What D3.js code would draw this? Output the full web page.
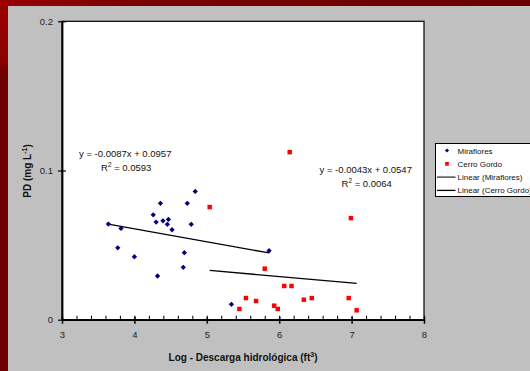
<!DOCTYPE html>
<html>
<head>
<meta charset="utf-8">
<script src="https://cdn.jsdelivr.net/npm/d3@7"></script>
<style>
  body { margin: 0; background: #c0c0c0; }
  text { font-family: "Liberation Sans", Arial, sans-serif; }
</style>
</head>
<body>
<script>
// data
var mirafloresX = [3.64, 3.815, 3.77, 4.00, 4.32, 4.26, 4.30, 4.36, 4.395, 4.47, 4.455, 4.52, 4.69, 4.675, 4.73, 4.785, 4.84, 5.34, 5.86];
var mirafloresY = [0.0641, 0.0612, 0.0482, 0.0422, 0.0293, 0.0703, 0.0654, 0.078, 0.0663, 0.0672, 0.0639, 0.0603, 0.0449, 0.0351, 0.078, 0.0639, 0.086, 0.0103, 0.0462];
var cerroX = [5.04, 6.145, 6.99, 5.80, 6.07, 6.17, 5.54, 5.68, 5.45, 5.93, 5.98, 6.34, 6.45, 6.96, 7.07];
var cerroY = [0.0755, 0.1123, 0.0681, 0.0342, 0.0226, 0.0226, 0.0145, 0.0125, 0.0072, 0.0094, 0.0072, 0.0134, 0.0145, 0.0145, 0.0063];
// trendline coefficients as printed on the chart
var mirafloresFit = { slope: -0.0087, intercept: 0.0957, r2: '0.0593' };
var cerroFit = { slope: -0.0043, intercept: 0.0547, r2: '0.0064' };
var xTicks = [3, 4, 5, 6, 7, 8];
var yTicks = [0, 0.1, 0.2];
var legendLabels = ['Miraflores', 'Cerro Gordo', 'Linear (Miraflores)', 'Linear (Cerro Gordo)'];

var width = 530,
	height = 371;

var svg = d3.select('body')
	.append('svg')
	.attr('width', width)
	.attr('height', height);

var defs = svg.append('defs');
var gTop = defs.append('linearGradient').attr('id', 'gtop');
gTop.append('stop').attr('offset', '0').attr('stop-color', '#9a0000');
gTop.append('stop').attr('offset', '0.25').attr('stop-color', '#7a0000');
gTop.append('stop').attr('offset', '1').attr('stop-color', '#6a0000');
var gLeft = defs.append('linearGradient').attr('id', 'gleft')
	.attr('x1', 0).attr('y1', 0).attr('x2', 0).attr('y2', 1);
gLeft.append('stop').attr('offset', '0').attr('stop-color', '#9a0000');
gLeft.append('stop').attr('offset', '0.17').attr('stop-color', '#8a0000');
gLeft.append('stop').attr('offset', '0.19').attr('stop-color', '#700000');
gLeft.append('stop').attr('offset', '1').attr('stop-color', '#6a0000');

// gray background and the red frame
svg.append('rect').attr('width', width).attr('height', height).attr('fill', '#c0c0c0');
svg.append('rect').attr('width', width).attr('height', 6).attr('fill', 'url(#gtop)');
svg.append('rect').attr('width', 8).attr('height', height).attr('fill', 'url(#gleft)');

var x = d3.scaleLinear().domain([3, 8]).range([62, 424]);
var y = d3.scaleLinear().domain([0, 0.2]).range([319.7, 21.3]);

// plot area
svg.append('rect')
	.attr('x', x(3)).attr('y', y(0.2))
	.attr('width', x(8) - x(3)).attr('height', y(0) - y(0.2))
	.attr('fill', '#fff')
	.attr('stroke', '#000')
	.attr('stroke-width', 1.2);

// x axis: major ticks cross the line, minor ticks point inward
var xAxis = svg.append('g').attr('transform', 'translate(0,' + y(0) + ')');
xAxis.append('g')
	.call(d3.axisBottom(x).tickValues(d3.range(3, 8.01, 0.2)).tickSize(-4).tickFormat(''))
	.call(function(g) { g.select('.domain').remove(); });
xAxis.append('g')
	.call(d3.axisBottom(x).tickValues(xTicks).tickSizeInner(4).tickSizeOuter(0).tickPadding(8)
		.tickFormat(d3.format('d')))
	.call(function(g) {
		g.select('.domain').attr('stroke-width', 1.8);
		g.selectAll('.tick line').attr('y1', -3).attr('stroke-width', 1.5);
		g.selectAll('.tick text').attr('font-size', 9.5).attr('fill', '#222')
			.attr('font-family', '"Liberation Sans", Arial, sans-serif');
	});

// y axis
svg.append('g')
	.attr('transform', 'translate(' + x(3) + ',0)')
	.call(d3.axisLeft(y).tickValues(yTicks).tickSizeInner(4).tickSizeOuter(0).tickPadding(5)
		.tickFormat(function(d) { return d === 0 ? '0' : d3.format('.1f')(d); }))
	.call(function(g) {
		g.select('.domain').attr('stroke-width', 1.8);
		g.selectAll('.tick line').attr('x2', 4).attr('x1', -4).attr('stroke-width', 1.2);
		g.selectAll('.tick text').attr('font-size', 9.5).attr('fill', '#222')
			.attr('font-family', '"Liberation Sans", Arial, sans-serif');
	});

// trend lines
function fitLine(fit, xs) {
	var ext = d3.extent(xs);
	return d3.line()
		.x(function(d) { return x(d); })
		.y(function(d) { return y(fit.slope * d + fit.intercept); })(ext);
}
svg.append('path').attr('d', fitLine(mirafloresFit, mirafloresX))
	.attr('stroke', '#000').attr('stroke-width', 1.3).attr('fill', 'none');
svg.append('path').attr('d', fitLine(cerroFit, cerroX))
	.attr('stroke', '#000').attr('stroke-width', 1.3).attr('fill', 'none');

// markers
var diamond = d3.symbol().type(d3.symbolSquare).size(14);
svg.append('g').selectAll('path')
	.data(d3.zip(mirafloresX, mirafloresY))
	.enter().append('path')
	.attr('d', diamond)
	.attr('transform', function(d) { return 'translate(' + x(d[0]) + ',' + y(d[1]) + ') rotate(45)'; })
	.attr('fill', '#000080');

var square = d3.symbol().type(d3.symbolSquare).size(20);
svg.append('g').selectAll('path')
	.data(d3.zip(cerroX, cerroY))
	.enter().append('path')
	.attr('d', square)
	.attr('transform', function(d) { return 'translate(' + x(d[0]) + ',' + y(d[1]) + ')'; })
	.attr('fill', '#ff0000');

// equation labels
function equation(fit, ex, ey, rx) {
	var sign = fit.intercept >= 0 ? ' + ' : ' - ';
	svg.append('text').attr('x', ex).attr('y', ey)
		.attr('font-size', 9.5).attr('fill', '#111')
		.text('y = ' + fit.slope + 'x' + sign + Math.abs(fit.intercept));
	var t = svg.append('text').attr('x', rx).attr('y', ey + 14)
		.attr('font-size', 9.5).attr('fill', '#111');
	t.append('tspan').text('R');
	t.append('tspan').attr('font-size', 6.5).attr('dy', -4).text('2');
	t.append('tspan').attr('dy', 4).text(' = ' + fit.r2);
}
equation(mirafloresFit, 79, 157, 101);
equation(cerroFit, 319.5, 173, 341.5);

// axis titles
svg.append('text')
	.attr('x', 243).attr('y', 361)
	.attr('text-anchor', 'middle')
	.attr('font-size', 10).attr('font-weight', 'bold').attr('fill', '#111')
	.call(function(t) {
		t.append('tspan').text('Log - Descarga hidrológica (ft');
		t.append('tspan').attr('font-size', 7).attr('dy', -4).text('3');
		t.append('tspan').attr('dy', 4).text(')');
	});

svg.append('text')
	.attr('transform', 'translate(30.5,171) rotate(-90)')
	.attr('text-anchor', 'middle')
	.attr('font-size', 10).attr('font-weight', 'bold').attr('fill', '#111')
	.call(function(t) {
		t.append('tspan').text('PD (mg L');
		t.append('tspan').attr('font-size', 7).attr('dy', -4).text('-1');
		t.append('tspan').attr('dy', 4).text(')');
	});

// legend (its right side runs past the page edge, as in the original)
var legend = svg.append('g').attr('transform', 'translate(435.5,143.5)');
legend.append('rect')
	.attr('width', 120).attr('height', 53)
	.attr('fill', '#fff').attr('stroke', '#000').attr('stroke-width', 1);
legendLabels.forEach(function(label, i) {
	var ly = 7 + i * 13.3;
	if (i === 0) {
		legend.append('path').attr('d', d3.symbol().type(d3.symbolSquare).size(9))
			.attr('transform', 'translate(11.5,' + ly + ') rotate(45)').attr('fill', '#000080');
	} else if (i === 1) {
		legend.append('path').attr('d', d3.symbol().type(d3.symbolSquare).size(14))
			.attr('transform', 'translate(11.5,' + ly + ')').attr('fill', '#ff0000');
	} else {
		legend.append('line').attr('x1', 1.5).attr('x2', 20).attr('y1', ly).attr('y2', ly)
			.attr('stroke', i === 2 ? '#333' : '#000').attr('stroke-width', 1.3);
	}
	legend.append('text').attr('x', 22).attr('y', ly + 3)
		.attr('font-size', 8).attr('fill', '#111').text(label);
});
</script>
</body>
</html>
